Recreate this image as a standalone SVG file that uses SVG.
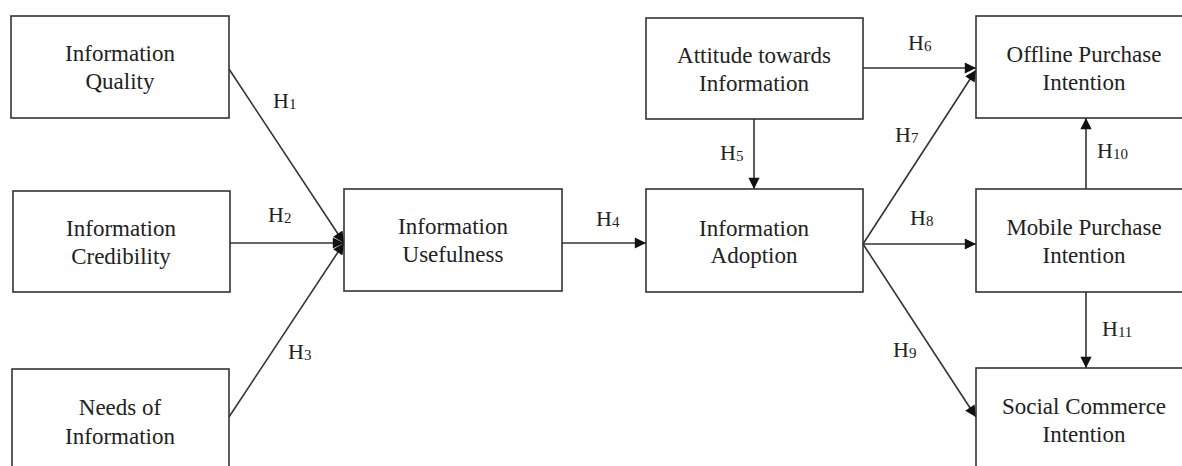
<svg xmlns="http://www.w3.org/2000/svg" width="1182" height="466" viewBox="0 0 1182 466">
  <defs>
    <style>
      .box { fill: #ffffff; stroke: #333333; stroke-width: 1.6; }
      .t { font-family: "Liberation Serif", "Times New Roman", serif; font-size: 23px; fill: #222222; text-anchor: middle; }
      .h { font-family: "Liberation Serif", "Times New Roman", serif; font-size: 22px; fill: #222222; }
      .sub { font-size: 15px; }
      .c { fill: none; stroke: #333333; stroke-width: 1.6; marker-end: url(#arr); }
    </style>
    <marker id="arr" viewBox="0 0 10 10" refX="10" refY="5" markerWidth="7.5" markerHeight="7" markerUnits="strokeWidth" orient="auto">
      <path d="M0,0 L10,5 L0,10 z" fill="#111111"/>
    </marker>
  </defs>
  <rect x="0" y="0" width="1182" height="466" fill="#ffffff"/>

  <g id="connectors">
    <line class="c" x1="229" y1="69" x2="344" y2="243"/>
    <line class="c" x1="230" y1="243" x2="344" y2="243"/>
    <line class="c" x1="229" y1="417" x2="344" y2="243"/>
    <line class="c" x1="562" y1="243" x2="646" y2="243"/>
    <line class="c" x1="754" y1="119" x2="754" y2="189"/>
    <line class="c" x1="863" y1="68" x2="976" y2="68"/>
    <line class="c" x1="863" y1="244" x2="976" y2="70"/>
    <line class="c" x1="863" y1="244" x2="976" y2="244"/>
    <line class="c" x1="863" y1="244" x2="976" y2="417"/>
    <line class="c" x1="1086" y1="189" x2="1086" y2="118"/>
    <line class="c" x1="1086" y1="292" x2="1086" y2="368"/>
    <text class="h" x="273" y="108">H<tspan class="sub" dy="1">1</tspan></text>
    <text class="h" x="268" y="222">H<tspan class="sub" dy="1">2</tspan></text>
    <text class="h" x="288" y="359">H<tspan class="sub" dy="1">3</tspan></text>
    <text class="h" x="596" y="226">H<tspan class="sub" dy="1">4</tspan></text>
    <text class="h" x="720" y="160">H<tspan class="sub" dy="1">5</tspan></text>
    <text class="h" x="908" y="50">H<tspan class="sub" dy="1">6</tspan></text>
    <text class="h" x="895" y="142">H<tspan class="sub" dy="1">7</tspan></text>
    <text class="h" x="910" y="225">H<tspan class="sub" dy="1">8</tspan></text>
    <text class="h" x="893" y="357">H<tspan class="sub" dy="1">9</tspan></text>
    <text class="h" x="1097" y="158">H<tspan class="sub" dy="1">10</tspan></text>
    <text class="h" x="1102" y="336">H<tspan class="sub" dy="1">11</tspan></text>
  </g>

  <g id="info-quality">
    <rect class="box" x="11" y="16" width="218" height="102"/>
    <text class="t" x="120" y="61">Information</text>
    <text class="t" x="120" y="89">Quality</text>
  </g>
  <g id="info-credibility">
    <rect class="box" x="13" y="191" width="217" height="101"/>
    <text class="t" x="121" y="236">Information</text>
    <text class="t" x="121" y="264">Credibility</text>
  </g>
  <g id="needs-info">
    <rect class="box" x="12" y="369" width="217" height="102"/>
    <text class="t" x="120" y="415">Needs of</text>
    <text class="t" x="120" y="444">Information</text>
  </g>
  <g id="info-usefulness">
    <rect class="box" x="344" y="189" width="218" height="102"/>
    <text class="t" x="453" y="234">Information</text>
    <text class="t" x="453" y="262">Usefulness</text>
  </g>
  <g id="attitude">
    <rect class="box" x="646" y="18" width="217" height="101"/>
    <text class="t" x="754" y="63">Attitude towards</text>
    <text class="t" x="754" y="91">Information</text>
  </g>
  <g id="info-adoption">
    <rect class="box" x="646" y="189" width="217" height="103"/>
    <text class="t" x="754" y="236">Information</text>
    <text class="t" x="754" y="263">Adoption</text>
  </g>
  <g id="offline-purchase">
    <rect class="box" x="976" y="16" width="216" height="102"/>
    <text class="t" x="1084" y="62">Offline Purchase</text>
    <text class="t" x="1084" y="90">Intention</text>
  </g>
  <g id="mobile-purchase">
    <rect class="box" x="976" y="189" width="216" height="103"/>
    <text class="t" x="1084" y="235">Mobile Purchase</text>
    <text class="t" x="1084" y="263">Intention</text>
  </g>
  <g id="social-commerce">
    <rect class="box" x="976" y="368" width="216" height="103"/>
    <text class="t" x="1084" y="414">Social Commerce</text>
    <text class="t" x="1084" y="442">Intention</text>
  </g>
</svg>
